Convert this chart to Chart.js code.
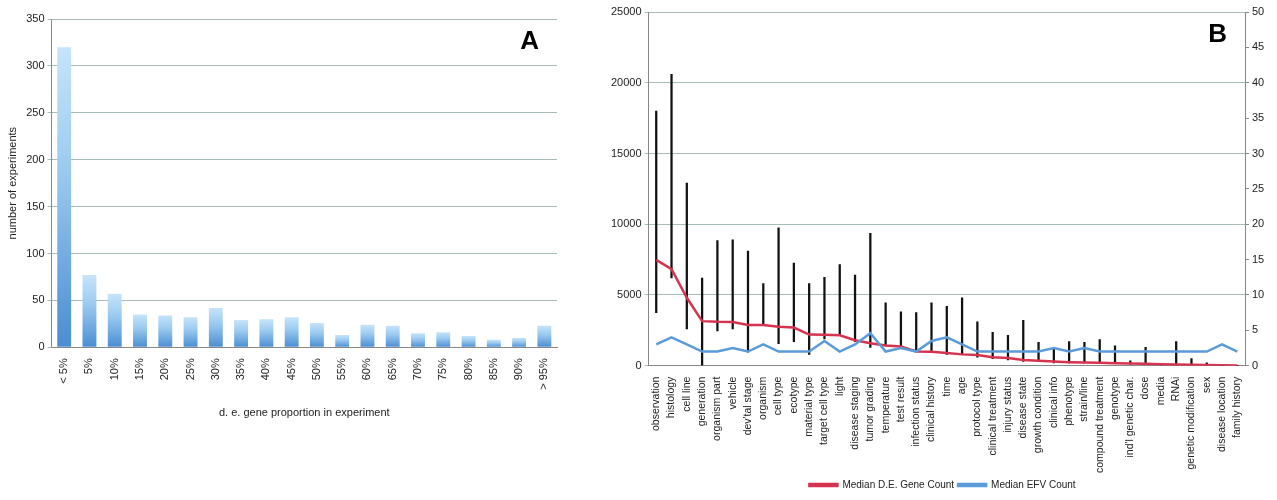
<!DOCTYPE html>
<html lang="en">
<head>
  <meta charset="UTF-8">
  <title>Experiments and EFV counts</title>
  <script src="https://cdn.jsdelivr.net/npm/chart.js@4.4.1/dist/chart.umd.min.js"></script>
  <style>
    html, body { margin: 0; padding: 0; background: #fff; overflow: hidden; width: 1277px; height: 500px; }
    #wrapA { position: absolute; left: 0; top: 0; width: 575px; height: 500px; }
    #wrapB { position: absolute; left: 608px; top: 0; width: 669px; height: 500px; }
  </style>
</head>
<body>
  <div id="wrapA"><canvas id="chartA"></canvas></div>
  <div id="wrapB"><canvas id="chartB"></canvas></div>

  <script>
    // panel A data
    const proportionLabels = ['< 5%', '5%', '10%', '15%', '20%', '25%', '30%', '35%', '40%', '45%',
      '50%', '55%', '60%', '65%', '70%', '75%', '80%', '85%', '90%', '> 95%'];
    const experimentCounts = [320, 77, 57, 35, 34, 32, 42, 29, 30, 32, 26, 13, 24, 23, 15, 16, 12, 8, 10, 23];

    // panel B data
    const factorLabels = ['observation', 'histology', 'cell line', 'generation', 'organism part', 'vehicle',
      "dev'tal stage", 'organism', 'cell type', 'ecotype', 'material type', 'target cell type', 'light',
      'disease staging', 'tumor grading', 'temperature', 'test result', 'infection status', 'clinical history',
      'time', 'age', 'protocol type', 'clinical treatment', 'injury status', 'disease state', 'growth condition',
      'clinical info', 'phenotype', 'strain/line', 'compound treatment', 'genotype', "ind'l genetic char.",
      'dose', 'media', 'RNAi', 'genetic modification', 'sex', 'disease location', 'family history'];
    const medianGeneCount = [7480, 6830, 4800, 3150, 3100, 3080, 2880, 2870, 2750, 2700, 2200, 2180, 2150,
      1800, 1580, 1430, 1350, 1000, 980, 900, 800, 750, 600, 550, 400, 350, 300, 250, 220, 200, 180, 150,
      130, 100, 90, 70, 50, 30, 20];
    const rangeLow = [3750, 6200, 2600, 0, 2450, 2600, 950, 2900, 1550, 1700, 800, 1900, 2150,
      1700, 1300, 1400, 1200, 1000, 1000, 800, 800, 600, 500, 400, 300, 300, 200, 200, 200, 150, 150, 100,
      100, 50, 50, 50, 30, 20, 10];
    const rangeHigh = [18000, 20600, 12900, 6200, 8850, 8900, 8100, 5800, 9750, 7250, 5800, 6250, 7150,
      6400, 9350, 4450, 3800, 3750, 4450, 4200, 4800, 3100, 2350, 2150, 3200, 1650, 1200, 1700, 1650, 1850,
      1400, 350, 1300, 60, 1700, 500, 200, 30, 20];
    const medianEfvCount = [3, 4, 3, 2, 2, 2.5, 2, 3, 2, 2, 2, 3.5, 2, 3, 4.6, 2, 2.5, 2, 3.5, 4, 3, 2, 2,
      2, 2, 2, 2.5, 2, 2.5, 2, 2, 2, 2, 2, 2, 2, 2, 3, 2];

    const font = { family: "'Liberation Sans', Arial, sans-serif", size: 11 };
    const gridColor = '#a9bcbc';
    Chart.defaults.font = font;
    Chart.defaults.color = '#222';
    Chart.defaults.animation = false;
    Chart.defaults.responsive = true;
    Chart.defaults.maintainAspectRatio = false;

    // big corner letter
    function letterPlugin(letter) {
      return {
        id: 'letter' + letter,
        afterDraw(chart) {
          const { ctx, chartArea } = chart;
          ctx.save();
          ctx.font = "bold 26px 'Liberation Sans', Arial, sans-serif";
          ctx.fillStyle = '#000';
          ctx.textAlign = 'right';
          ctx.textBaseline = 'top';
          ctx.fillText(letter, chartArea.right - 18, chartArea.top + 10);
          ctx.restore();
        }
      };
    }

    new Chart(document.getElementById('chartA'), {
      type: 'bar',
      data: {
        labels: proportionLabels,
        datasets: [{
          data: experimentCounts,
          // each bar fades from light at its top to a deeper blue at the base
          backgroundColor: (c) => {
            const y = c.chart.scales.y;
            if (!y || !c.chart.chartArea || c.parsed == null) return '#8fc3ea';
            const top = y.getPixelForValue(c.parsed.y);
            const bottom = y.getPixelForValue(0);
            if (!isFinite(top) || bottom - top < 1) return '#8fc3ea';
            const g = c.chart.ctx.createLinearGradient(0, top, 0, bottom);
            g.addColorStop(0, '#c6e4fa');
            g.addColorStop(0.4, '#9ccbf0');
            g.addColorStop(1, '#4a8dd2');
            return g;
          },
          borderWidth: 0,
          barPercentage: 0.55,
          categoryPercentage: 1
        }]
      },
      options: {
        layout: { padding: { top: 19, right: 18, left: 2, bottom: 76 } },
        plugins: { legend: { display: false }, tooltip: { enabled: false } },
        scales: {
          x: {
            grid: { display: false },
            border: { color: '#888' },
            ticks: { minRotation: 90, maxRotation: 90, font },
            title: { display: true, text: 'd. e. gene proportion in experiment', font, padding: { top: 14 } }
          },
          y: {
            min: 0, max: 350,
            ticks: { stepSize: 50, font },
            grid: { color: gridColor, drawTicks: true, tickLength: 4 },
            border: { color: '#888' },
            title: { display: true, text: 'number of experiments', font }
          }
        }
      },
      plugins: [letterPlugin('A')]
    });

    new Chart(document.getElementById('chartB'), {
      data: {
        labels: factorLabels,
        datasets: [
          {
            type: 'line',
            label: 'Median D.E. Gene Count',
            data: medianGeneCount,
            borderColor: '#d6334f',
            backgroundColor: '#d6334f',
            borderWidth: 2.5,
            pointRadius: 0,
            yAxisID: 'y',
            order: 1
          },
          {
            type: 'line',
            label: 'Median EFV Count',
            data: medianEfvCount,
            borderColor: '#5b9bd9',
            backgroundColor: '#5b9bd9',
            borderWidth: 2.5,
            pointRadius: 0,
            yAxisID: 'y2',
            order: 0
          },
          {
            type: 'bar',
            label: 'range',
            data: rangeLow.map((lo, i) => [lo, rangeHigh[i]]),
            backgroundColor: '#111',
            barThickness: 1.6,
            yAxisID: 'y',
            order: 2
          }
        ]
      },
      options: {
        layout: { padding: { top: 12, right: 0, bottom: 0 } },
        plugins: {
          tooltip: { enabled: false },
          legend: {
            position: 'bottom',
            padding: 0,
            labels: {
              filter: (item) => item.text !== 'range',
              sort: (a, b) => a.datasetIndex - b.datasetIndex,
              boxWidth: 28, boxHeight: 2, padding: 4, font: { ...font, size: 10 }
            }
          }
        },
        scales: {
          x: {
            grid: { display: false },
            border: { color: '#888' },
            ticks: { minRotation: 90, maxRotation: 90, autoSkip: false, font: { ...font, size: 10.5 } }
          },
          y: {
            min: 0, max: 25000,
            ticks: { stepSize: 5000, font, callback: (v) => String(v) },
            grid: { color: gridColor, tickLength: 4 },
            border: { color: '#888' }
          },
          y2: {
            position: 'right',
            min: 0, max: 50,
            ticks: { stepSize: 5, font },
            grid: { drawOnChartArea: false, tickLength: 4, color: '#888' },
            border: { color: '#888' },
            afterFit: (s) => { s.width = 32; }
          }
        }
      },
      plugins: [letterPlugin('B')]
    });
  </script>
</body>
</html>
